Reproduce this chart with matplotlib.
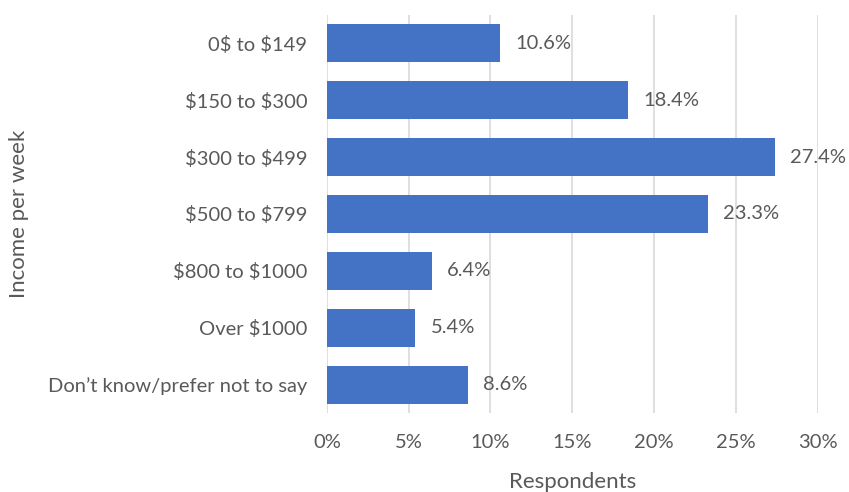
import matplotlib
matplotlib.use("Agg")
import matplotlib.pyplot as plt
from matplotlib.ticker import PercentFormatter

categories = ["0\\$ to \\$149", "\\$150 to \\$300", "\\$300 to \\$499", "\\$500 to \\$799",
              "\\$800 to \\$1000", "Over \\$1000", "Don\u2019t know/prefer not to say"]
values = [10.6, 18.4, 27.4, 23.3, 6.4, 5.4, 8.6]
xticks = [0, 5, 10, 15, 20, 25, 30]

plt.rcParams["font.family"] = ["Lato", "DejaVu Sans"]
plt.rcParams["mathtext.default"] = "regular"
grey = "#595959"

fig = plt.figure(figsize=(8.49, 4.92), dpi=100)
ax = fig.add_axes([0.385, 0.1606, 0.578, 0.809])

pos = list(range(len(categories)))
bars = ax.barh(pos, values, height=0.67, color="#4472C4", zorder=3)
for b, v in zip(bars, values):
    ax.annotate(f"{v:.1f}%", (b.get_width(), b.get_y() + b.get_height() / 2),
                xytext=(11, 0), textcoords="offset points", va="center",
                ha="left", fontsize=14.5, color=grey)

ax.set_yticks(pos)
ax.set_yticklabels(categories)
ax.set_ylim(len(categories) - 0.5, -0.5)
ax.set_xlim(0, 30)
ax.set_xticks(xticks)
ax.xaxis.set_major_formatter(PercentFormatter(decimals=0))
ax.grid(axis="x", color="#d9d9d9", linewidth=1.2, zorder=0)
ax.tick_params(axis="both", length=0, labelsize=14.5, colors=grey)
ax.tick_params(axis="x", pad=15)
ax.tick_params(axis="y", pad=14)
for s in ax.spines.values():
    s.set_visible(False)

ax.set_xlabel("Respondents", fontsize=16, color=grey, labelpad=15)
ax.set_ylabel("Income per week", fontsize=16, color=grey)
ax.yaxis.set_label_coords(-0.607, 0.5)

fig.savefig("out.png", dpi=100)
